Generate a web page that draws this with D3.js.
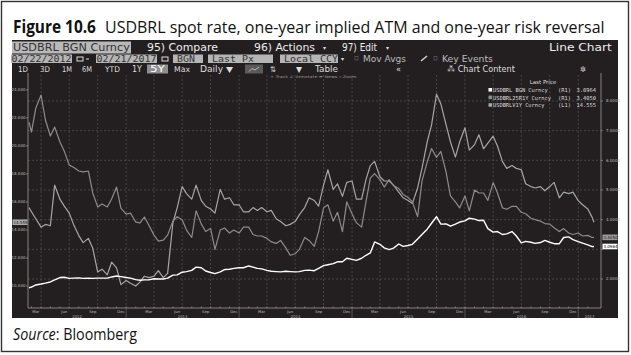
<!DOCTYPE html>
<html><head><meta charset="utf-8">
<script src="https://cdn.jsdelivr.net/npm/d3@7"></script>
<style>html,body{margin:0;padding:0;background:#fff}svg{display:block}</style>
</head><body><svg id="c" width="631" height="355"></svg>
<script>
// ---------------- DATA ----------------
const dates = [
"2012-02-22","2012-03-01","2012-03-15","2012-04-01","2012-04-15","2012-05-01","2012-05-15","2012-06-01","2012-06-15","2012-07-01","2012-07-15","2012-08-01","2012-08-15","2012-09-01","2012-09-15","2012-10-01","2012-10-15","2012-11-01","2012-11-15","2012-12-01","2012-12-15",
"2013-01-01","2013-01-15","2013-02-01","2013-02-15","2013-03-01","2013-03-15","2013-04-01","2013-04-15","2013-05-01","2013-05-15","2013-06-01","2013-06-15","2013-07-01","2013-07-15","2013-08-01","2013-08-15","2013-09-01","2013-09-15","2013-10-01","2013-10-15","2013-11-01","2013-11-15","2013-12-01","2013-12-15",
"2014-01-01","2014-01-15","2014-02-01","2014-02-15","2014-03-01","2014-03-15","2014-04-01","2014-04-15","2014-05-01","2014-05-15","2014-06-01","2014-06-15","2014-07-01","2014-07-15","2014-08-01","2014-08-15","2014-09-01","2014-09-15","2014-10-01","2014-10-15","2014-11-01","2014-11-15","2014-12-01","2014-12-15",
"2015-01-01","2015-01-15","2015-02-01","2015-02-15","2015-03-01","2015-03-15","2015-04-01","2015-04-15","2015-05-01","2015-05-15","2015-06-01","2015-06-15","2015-07-01","2015-07-15","2015-08-01","2015-08-15","2015-09-01","2015-09-15","2015-10-01","2015-10-15","2015-11-01","2015-11-15","2015-12-01","2015-12-15",
"2016-01-01","2016-01-15","2016-02-01","2016-02-15","2016-03-01","2016-03-15","2016-04-01","2016-04-15","2016-05-01","2016-05-15","2016-06-01","2016-06-15","2016-07-01","2016-07-15","2016-08-01","2016-08-15","2016-09-01","2016-09-15","2016-10-01","2016-10-15","2016-11-01","2016-11-15","2016-12-01","2016-12-15",
"2017-01-01","2017-01-15","2017-02-01","2017-02-15","2017-02-21"];

// USDBRL BGN Curncy (R1) - spot
const spot = [
1.70,1.73,1.80,1.83,1.86,1.90,1.97,2.05,2.06,2.02,2.03,2.04,2.02,2.03,2.02,2.03,2.03,2.03,2.07,2.10,2.08,
2.05,2.03,1.98,1.96,1.97,1.97,2.01,2.00,2.00,2.03,2.13,2.14,2.23,2.25,2.29,2.40,2.38,2.27,2.22,2.18,2.24,2.32,2.33,2.36,
2.38,2.38,2.44,2.40,2.36,2.34,2.29,2.26,2.25,2.24,2.26,2.25,2.24,2.25,2.29,2.30,2.28,2.36,2.45,2.48,2.52,2.58,2.58,2.70,
2.66,2.63,2.70,2.80,2.88,3.25,3.17,3.05,2.99,3.04,3.18,3.10,3.13,3.17,3.35,3.50,3.68,3.88,4.10,3.85,3.86,3.78,3.85,3.92,
3.96,4.05,4.02,3.97,3.98,3.70,3.58,3.60,3.50,3.52,3.60,3.45,3.22,3.27,3.24,3.20,3.23,3.30,3.24,3.19,3.19,3.40,3.42,3.33,
3.26,3.21,3.15,3.09,3.0964];

// USDBRL25R1Y Curncy (R1) - one-year 25d risk reversal
const riskRev = [
7.29,6.95,7.76,8.20,7.36,6.82,7.12,6.62,6.31,5.84,5.77,5.64,5.61,5.64,4.90,4.43,4.53,4.43,4.70,5.10,4.39,
4.19,4.22,3.92,3.89,4.09,3.82,3.48,3.28,3.31,3.48,3.95,4.10,4.00,3.65,3.40,4.30,3.85,3.60,3.70,3.00,3.65,3.72,3.55,3.65,
3.55,3.75,3.75,3.50,3.45,3.45,3.37,3.25,3.20,3.30,3.05,2.80,2.85,3.00,3.40,3.30,3.10,3.60,4.40,4.50,3.95,4.25,3.60,4.60,
4.20,3.90,3.75,4.60,5.40,5.55,5.35,5.10,5.35,5.15,5.05,4.85,4.75,4.60,4.10,5.30,5.95,6.40,6.10,6.30,5.60,4.80,4.60,4.40,
4.80,4.30,5.00,4.90,4.90,4.65,5.25,4.90,4.40,4.35,4.45,4.45,4.25,4.20,4.05,4.00,3.95,3.87,3.85,3.73,3.60,3.70,3.55,3.50,
3.55,3.45,3.47,3.40,3.405];

// USDBRLV1Y Curncy (L1) - one-year ATM implied vol
const atmVol = [
15.6,15.3,14.8,14.2,14.4,14.3,17.2,16.2,15.7,15.2,14.4,13.6,13.1,13.4,12.7,11.0,11.2,10.8,11.7,11.3,10.1,
10.4,10.2,10.0,10.3,10.7,10.6,10.7,11.1,10.6,10.9,14.5,15.6,17.1,16.6,16.2,17.2,16.1,15.7,15.5,15.2,16.9,16.2,16.3,15.8,
15.8,15.3,15.3,15.6,15.4,15.6,15.3,15.4,14.8,14.6,14.3,14.4,14.6,15.1,15.6,16.3,16.1,15.7,17.2,18.3,16.9,17.3,16.4,17.4,
17.5,16.2,16.2,17.6,18.6,18.9,17.8,17.5,17.5,17.2,16.7,16.3,16.1,15.9,17.0,18.4,20.3,21.5,23.7,23.0,21.5,20.3,19.2,20.3,
21.3,19.7,20.1,20.8,19.8,20.2,20.7,20.0,18.9,18.4,18.6,18.4,18.3,17.3,17.1,17.0,17.1,16.8,17.1,17.4,16.3,16.7,16.6,16.7,
16.1,15.8,15.5,14.9,14.555];

const leftTicks = [10,12,14,16,18,20,22,24];
const rightTicks = [2,3,4,5,6,7,8];
const monthLabels = ["Mar","Jun","Sep","Dec"];
const years = [2012,2013,2014,2015,2016,2017];
const seriesNames = ["USDBRL BGN Curncy","USDBRL25R1Y Curncy","USDBRLV1Y Curncy"];
const seriesAxis = ["(R1)","(R1)","(L1)"];
const lastPrices = ["3.0964","3.4050","14.555"];

// ---------------- DRAW ----------------
const svg = d3.select("#c");
const parse = d3.timeParse("%Y-%m-%d");
const D = dates.map(parse);
const BG = "#231f20";
const FONT = "'DejaVu Sans', Verdana, sans-serif";
const MONO = "'DejaVu Sans Mono', monospace";

// horizontally scale a start-anchored text so its width equals w
function fit(sel, w){
  const n = sel.node(); const len = n.getComputedTextLength();
  const x0 = +sel.attr("x");
  if(len>0) sel.attr("transform", `translate(${x0},0) scale(${w/len},1) translate(${-x0},0)`);
  return sel;
}

// outer figure frame
svg.append("rect").attr("x",1.5).attr("y",1.5).attr("width",627).attr("height",350)
  .attr("fill","#fff").attr("stroke","#333").attr("stroke-width",1.4);

// title
fit(svg.append("text").attr("x",13).attr("y",33).attr("font-family","'Open Sans', sans-serif")
  .attr("font-weight","bold").attr("font-size",17).attr("fill","#111").text("Figure 10.6"), 83);
fit(svg.append("text").attr("x",105).attr("y",33).attr("font-family","'Open Sans', sans-serif")
  .attr("font-size",17).attr("fill","#111")
  .text("USDBRL spot rate, one-year implied ATM and one-year risk reversal"), 500);

// dark panel
svg.append("rect").attr("x",12).attr("y",40).attr("width",606).attr("height",278).attr("fill",BG);

// ---- toolbar row 1
svg.append("rect").attr("x",12).attr("y",41.5).attr("width",119).attr("height",12).attr("fill","#b9b9b9");
fit(svg.append("text").attr("x",13).attr("y",51).attr("font-family",FONT).attr("font-size",10)
  .attr("fill","#333").text("USDBRL BGN Curncy"),117);
const row1 = [["95) Compare",147,71],["96) Actions",254,61],["97) Edit",342,35]];
row1.forEach(r=>fit(svg.append("text").attr("x",r[1]).attr("y",51).attr("font-family",FONT)
  .attr("font-size",10).attr("fill","#eee").text(r[0]),r[2]));
[323,386].forEach(x=>svg.append("text").attr("x",x).attr("y",50).attr("font-family",FONT)
  .attr("font-size",6).attr("fill","#ddd").text("▾"));
fit(svg.append("text").attr("x",549).attr("y",51).attr("font-family",FONT)
  .attr("font-size",10).attr("fill","#eee").text("Line Chart"),63);

// ---- toolbar row 2
const boxes2 = [["02/22/2012",11,61],["02/21/2017",96,61],["BGN",173,30],["Last Px",208,65],["Local CCY",280,58]];
boxes2.forEach(b=>{
  svg.append("rect").attr("x",b[1]).attr("y",54.5).attr("width",b[2]).attr("height",8.5).attr("fill","#b5b5b5");
  const isDate = b[0][2]==="/";
  const t = svg.append("text").attr("x",b[1]+(isDate?0.5:4)).attr("y",62)
    .attr("font-family",MONO).attr("font-size",8.5).attr("fill","#333").text(b[0]);
  fit(t, isDate?60:b[0].length*6);
});
[77,162].forEach(px=>{
  svg.append("rect").attr("x",px).attr("y",57).attr("width",6).attr("height",4)
    .attr("fill","none").attr("stroke","#ddd").attr("stroke-width",1);
});
svg.append("rect").attr("x",86).attr("y",58.5).attr("width",3).attr("height",1).attr("fill","#ddd");
svg.append("text").attr("x",341).attr("y",61).attr("font-family",FONT).attr("font-size",6).attr("fill","#ddd").text("▾");
[355,434].forEach(px=>svg.append("rect").attr("x",px).attr("y",56.5).attr("width",3).attr("height",3.5)
  .attr("fill","none").attr("stroke","#666").attr("stroke-width",0.6));
fit(svg.append("text").attr("x",363).attr("y",62).attr("font-family",FONT).attr("font-size",8.5)
  .attr("fill","#bbb").text("Mov Avgs"),43);
fit(svg.append("text").attr("x",442).attr("y",62).attr("font-family",FONT).attr("font-size",8.5)
  .attr("fill","#bbb").text("Key Events"),51);
svg.append("line").attr("x1",421).attr("y1",61).attr("x2",427).attr("y2",56).attr("stroke","#ccc").attr("stroke-width",1.6);

// ---- toolbar row 3
svg.append("rect").attr("x",147).attr("y",64.5).attr("width",21).attr("height",9).attr("fill","#8f8f8f");
svg.append("rect").attr("x",245).attr("y",64.5).attr("width",18).attr("height",9).attr("fill","#5a5a5a");
svg.append("path").attr("d","M249,71.5 L252,68.5 L255,70 L259,67").attr("fill","none").attr("stroke","#ddd").attr("stroke-width",0.7);
const row3 = [["1D",18,10],["3D",40,10],["1M",62,10],["6M",82,10],["YTD",105,15],["1Y",132,10],["5Y",150,15],
  ["Max",174,16],["Daily ▼",200,33],["⇅",270,6],["▼",296,6],["Table",315,23],["«",396,5],["⁂ Chart Content",447,68],["✲",580,6]];
row3.forEach(r=>fit(svg.append("text").attr("x",r[1]).attr("y",72.3).attr("font-family",FONT).attr("font-size",8)
  .attr("fill",r[0]==="5Y"?"#fff":"#ddd").text(r[0]),r[2]));
fit(svg.append("text").attr("x",270).attr("y",78.5).attr("font-family",FONT).attr("font-size",3.6)
  .attr("fill","#999").text("+ Track   ∠ Annotate   ≡ News   ⌕ Zoom"),87);

// ---- plot scales
const x0 = 28, x1 = 601, yTop = 73, yBot = 308;
const x = d3.scaleTime().domain([parse("2012-02-22"), parse("2017-02-21")]).range([29, 594]);
const yL = d3.scaleLinear().domain([8.43, 25.21]).range([yBot, yTop]);
const yR = d3.scaleLinear().domain([1.023, 8.944]).range([yBot, yTop]);

const g = svg.append("g");
// horizontal dashed grid (right-axis ticks)
g.selectAll(".hg").data(rightTicks).join("line").attr("x1",x0).attr("x2",x1)
  .attr("y1",d=>yR(d)).attr("y2",d=>yR(d)).attr("stroke","#555").attr("stroke-width",0.7).attr("stroke-dasharray","2,2");
// vertical dashed grid at quarter starts
const quarters = d3.timeMonth.every(3).range(parse("2012-03-01"), parse("2017-02-21"));
g.selectAll(".vg").data(quarters).join("line").attr("x1",d=>x(d)).attr("x2",d=>x(d))
  .attr("y1",yTop+2).attr("y2",yBot).attr("stroke","#555").attr("stroke-width",0.7).attr("stroke-dasharray","2,2");

// axes lines
g.append("line").attr("x1",x0).attr("x2",x0).attr("y1",yTop).attr("y2",yBot).attr("stroke","#999").attr("stroke-width",0.8);
g.append("line").attr("x1",x1).attr("x2",x1).attr("y1",yTop).attr("y2",yBot).attr("stroke","#999").attr("stroke-width",0.8);
g.append("line").attr("x1",x0).attr("x2",x1).attr("y1",yBot).attr("y2",yBot).attr("stroke","#999").attr("stroke-width",0.8);

// last-value positions (boxes hide the tick labels under them)
const yRR = yR(riskRev[riskRev.length-1]), ySpot = yR(spot[spot.length-1]), yVol = yL(atmVol[atmVol.length-1]);

// left axis ticks & labels
g.selectAll(".lt").data(leftTicks).join("line").attr("x1",x0-2).attr("x2",x0)
  .attr("y1",d=>yL(d)).attr("y2",d=>yL(d)).attr("stroke","#aaa").attr("stroke-width",0.6);
g.selectAll(".ll").data(leftTicks.filter(d=>Math.abs(yL(d)-yVol)>6)).join("text").attr("x",x0-2.5).attr("y",d=>yL(d)+1.4)
  .attr("text-anchor","end").attr("font-family",FONT).attr("font-size",4).attr("fill","#bbb")
  .text(d=>d3.format(".3f")(d));
// right axis ticks & labels
g.selectAll(".rt").data(rightTicks).join("line").attr("x1",x1).attr("x2",x1+2)
  .attr("y1",d=>yR(d)).attr("y2",d=>yR(d)).attr("stroke","#aaa").attr("stroke-width",0.6);
g.selectAll(".rl").data(rightTicks.filter(d=>Math.abs(yR(d)-yRR)>6 && Math.abs(yR(d)-ySpot)>6)).join("text")
  .attr("x",x1+5).attr("y",d=>yR(d)+1.4)
  .attr("font-family",FONT).attr("font-size",4).attr("fill","#bbb").text(d=>d3.format(".4f")(d));

// bottom axis: month ticks, quarter labels, years
const months = d3.timeMonth.range(parse("2012-03-01"), parse("2017-02-21"));
g.selectAll(".mt").data(months).join("line").attr("x1",d=>x(d)).attr("x2",d=>x(d))
  .attr("y1",yBot-1.5).attr("y2",yBot).attr("stroke","#aaa").attr("stroke-width",0.6);
const labelMonths = months.filter(d=>monthLabels.includes(d3.timeFormat("%b")(d)));
g.selectAll(".ml").data(labelMonths).join("text").attr("x",d=>x(d3.timeDay.offset(d,14))).attr("y",yBot+4.5)
  .attr("text-anchor","middle").attr("font-family",FONT).attr("font-size",3.8).attr("fill","#bbb")
  .text(d=>d3.timeFormat("%b")(d));
const yStarts = years.map(y=>new Date(y,0,1));
g.selectAll(".ys").data(yStarts.slice(1)).join("line").attr("x1",d=>x(d)).attr("x2",d=>x(d))
  .attr("y1",yBot).attr("y2",318).attr("stroke","#777").attr("stroke-width",0.6);
g.selectAll(".yl").data(years).join("text")
  .attr("x",(d,i)=>{const a=Math.max(x0,x(yStarts[i])); const b=Math.min(x1,x(new Date(d+1,0,1))); return (a+b)/2;})
  .attr("y",yBot+9.5).attr("text-anchor","middle").attr("font-family",FONT).attr("font-size",3.8).attr("fill","#bbb")
  .text(d=>d);

// series lines
const pts = (arr,sc)=>arr.map((v,i)=>[x(D[i]), sc(v)]);
const line = d3.line();
g.append("path").attr("d",line(pts(atmVol,yL))).attr("fill","none").attr("stroke","#a6a6a6").attr("stroke-width",1.2).attr("stroke-linejoin","round");
g.append("path").attr("d",line(pts(riskRev,yR))).attr("fill","none").attr("stroke","#8c8c8c").attr("stroke-width",1.2).attr("stroke-linejoin","round");
g.append("path").attr("d",line(pts(spot,yR))).attr("fill","none").attr("stroke","#ffffff").attr("stroke-width",1.4).attr("stroke-linejoin","round");

// last value boxes
[[yRR, lastPrices[1], "#9a9a9a", "#222"],[ySpot, lastPrices[0], "#ffffff", "#000"]].forEach(b=>{
  g.append("rect").attr("x",602.5).attr("y",b[0]-2.8).attr("width",15).attr("height",5.6).attr("fill",b[2]);
  g.append("text").attr("x",603.5).attr("y",b[0]+1.5).attr("font-family",FONT).attr("font-size",4).attr("fill",b[3]).text(b[1]);
});
g.append("rect").attr("x",12.5).attr("y",yVol-2.8).attr("width",15).attr("height",5.6).attr("fill","#a9a9a9");
g.append("text").attr("x",13.5).attr("y",yVol+1.5).attr("font-family",FONT).attr("font-size",4).attr("fill","#222").text(lastPrices[2]);

// legend
g.append("text").attr("x",543).attr("y",84).attr("text-anchor","middle").attr("font-family",FONT)
  .attr("font-size",5.5).attr("fill","#ddd").text("Last Price");
const legColors = ["#ffffff","#8c8c8c","#a6a6a6"];
seriesNames.forEach((n,i)=>{
  const yy = 92 + i*7.6;
  g.append("rect").attr("x",488.5).attr("y",yy-4).attr("width",3.6).attr("height",3.6).attr("fill",legColors[i]);
  fit(g.append("text").attr("x",493).attr("y",yy).attr("font-family",MONO).attr("font-size",5.4).attr("fill","#ddd").text(n), n.length*3.22);
  g.append("text").attr("x",558).attr("y",yy).attr("font-family",MONO).attr("font-size",5.4).attr("fill","#ddd").text(seriesAxis[i]);
  g.append("text").attr("x",596).attr("y",yy).attr("text-anchor","end").attr("font-family",MONO).attr("font-size",5.4).attr("fill","#ddd").text(lastPrices[i]);
});

// source
const src = svg.append("text").attr("x",13).attr("y",340).attr("font-family","'Open Sans', sans-serif")
  .attr("font-size",16.5).attr("fill","#111");
src.append("tspan").attr("font-style","italic").text("Source");
src.append("tspan").text(": Bloomberg");
fit(src,124);
</script></body></html>
